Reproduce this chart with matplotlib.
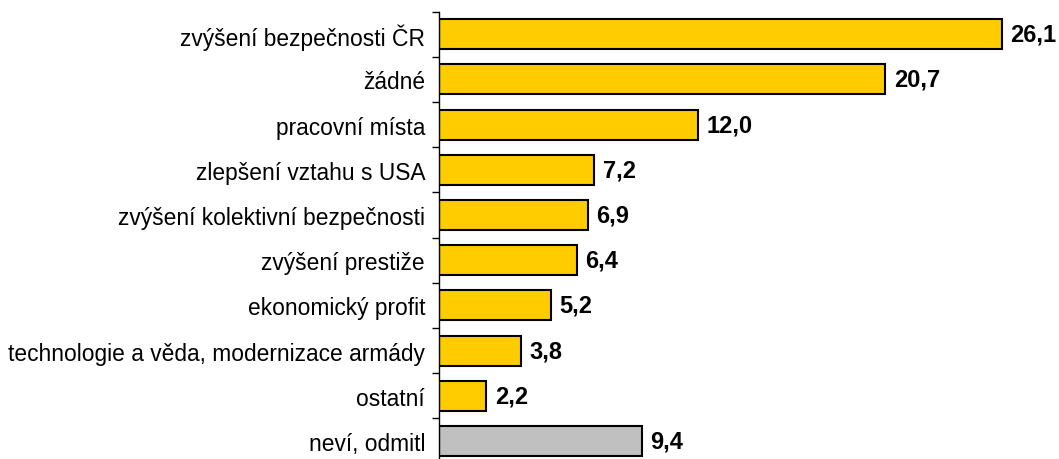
import numpy as np
import matplotlib
matplotlib.use("Agg")
import matplotlib.pyplot as plt

categories = ["zvýšení bezpečnosti ČR", "žádné", "pracovní místa",
              "zlepšení vztahu s USA", "zvýšení kolektivní bezpečnosti",
              "zvýšení prestiže", "ekonomický profit",
              "technologie a věda, modernizace armády", "ostatní", "neví, odmitl"]
values = [26.1, 20.7, 12.0, 7.2, 6.9, 6.4, 5.2, 3.8, 2.2, 9.4]
colors = ["#FFCC00"] * 9 + ["#C0C0C0"]

plt.rcParams['font.family'] = ['Liberation Sans', 'DejaVu Sans']

fig = plt.figure(figsize=(10.59, 4.6), dpi=100)
ax = fig.add_axes([439 / 1059, -4.6 / 460, 620 / 1059, 452 / 460])

y = np.arange(len(categories))
ax.barh(y, values, height=0.66, color=colors, edgecolor="black", linewidth=1.5)
ax.set_ylim(len(categories) - 0.5, -0.5)
ax.set_xlim(0, 620 / 21.57)

for yi, v in zip(y, values):
    ax.text(v + 0.38, yi, f"{v:.1f}".replace(".", ","), va="center", ha="left",
            fontsize=17, fontweight="bold")

ax.set_yticks(y)
ax.set_yticklabels(categories, fontsize=16.4)
ax.set_yticks(np.arange(-0.5, len(categories), 1), minor=True)
ax.tick_params(axis="y", which="major", length=0, pad=10)
ax.tick_params(axis="y", which="minor", length=5, width=1)
ax.set_xticks([])
for s in ["top", "right", "bottom"]:
    ax.spines[s].set_visible(False)
ax.spines["left"].set_linewidth(1)

fig.savefig("out.png", dpi=100)
